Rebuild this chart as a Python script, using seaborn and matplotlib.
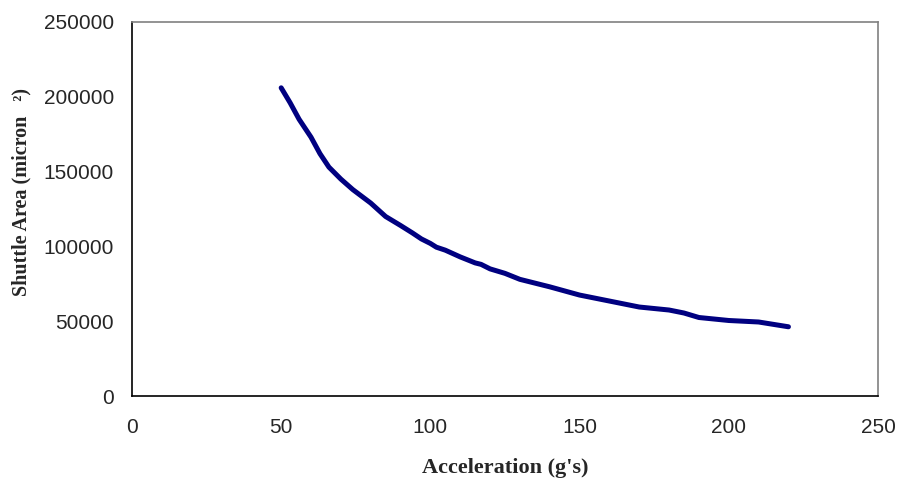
import numpy as np
import pandas as pd
import matplotlib
matplotlib.use('Agg')
import matplotlib.pyplot as plt
import seaborn as sns

# --- Data ---
accel = [50, 53, 56, 60, 63, 66, 70, 74, 80, 85, 90, 94, 97, 100, 102, 105,
         110, 115, 117, 120, 125, 130, 140, 150, 160, 170, 180, 185, 190, 200, 210, 220]
area = [206000, 196000, 185000, 173000, 162000, 153000, 145000, 138000, 129000,
        120000, 114000, 109000, 105000, 102000, 99500, 97500, 93000, 89000, 88000,
        85000, 82000, 78000, 73000, 67500, 63500, 59500, 57500, 55500, 52500,
        50500, 49500, 46300]
x_ticks = [0, 50, 100, 150, 200, 250]
y_ticks = [0, 50000, 100000, 150000, 200000, 250000]

df = pd.DataFrame({'accel': accel, 'area': area})

# --- Plot ---
sns.set_style('white')
plt.rcParams['font.family'] = ['Liberation Sans', 'DejaVu Sans']

fig = plt.figure(figsize=(8.99, 4.83), dpi=100)
ax = fig.add_axes([0.1468, 0.180, 0.8298, 0.7745])

sns.lineplot(data=df, x='accel', y='area', color='#000080', linewidth=3.6,
             solid_capstyle='round', ax=ax)

ax.set_xlim(0, 250)
ax.set_ylim(0, 250000)
ax.set_xticks(x_ticks)
ax.set_yticks(y_ticks)
ax.set_xticklabels([str(t) for t in x_ticks], fontsize=15)
ax.set_yticklabels([str(t) for t in y_ticks], fontsize=15)
ax.tick_params(axis='x', direction='in', length=5, width=1, color='black', pad=16)
ax.tick_params(axis='y', direction='out', length=4, width=1, color='black', pad=9)

for side in ['left', 'bottom']:
    ax.spines[side].set_color('black')
    ax.spines[side].set_linewidth(1.2)
for side in ['top', 'right']:
    ax.spines[side].set_color('#808080')
    ax.spines[side].set_linewidth(1.2)

serif = ['Liberation Serif', 'DejaVu Serif']
ax.set_xlabel("Acceleration (g's)", fontsize=16, fontweight='bold', family=serif, labelpad=15)
ax.set_ylabel('Shuttle Area (micron   \u00b2)', fontsize=14.5, fontweight='bold', family=serif, labelpad=9)
ax.yaxis.label.set_y(0.545)  # label sits a bit above the axis middle

fig.savefig('out.png', dpi=100)
